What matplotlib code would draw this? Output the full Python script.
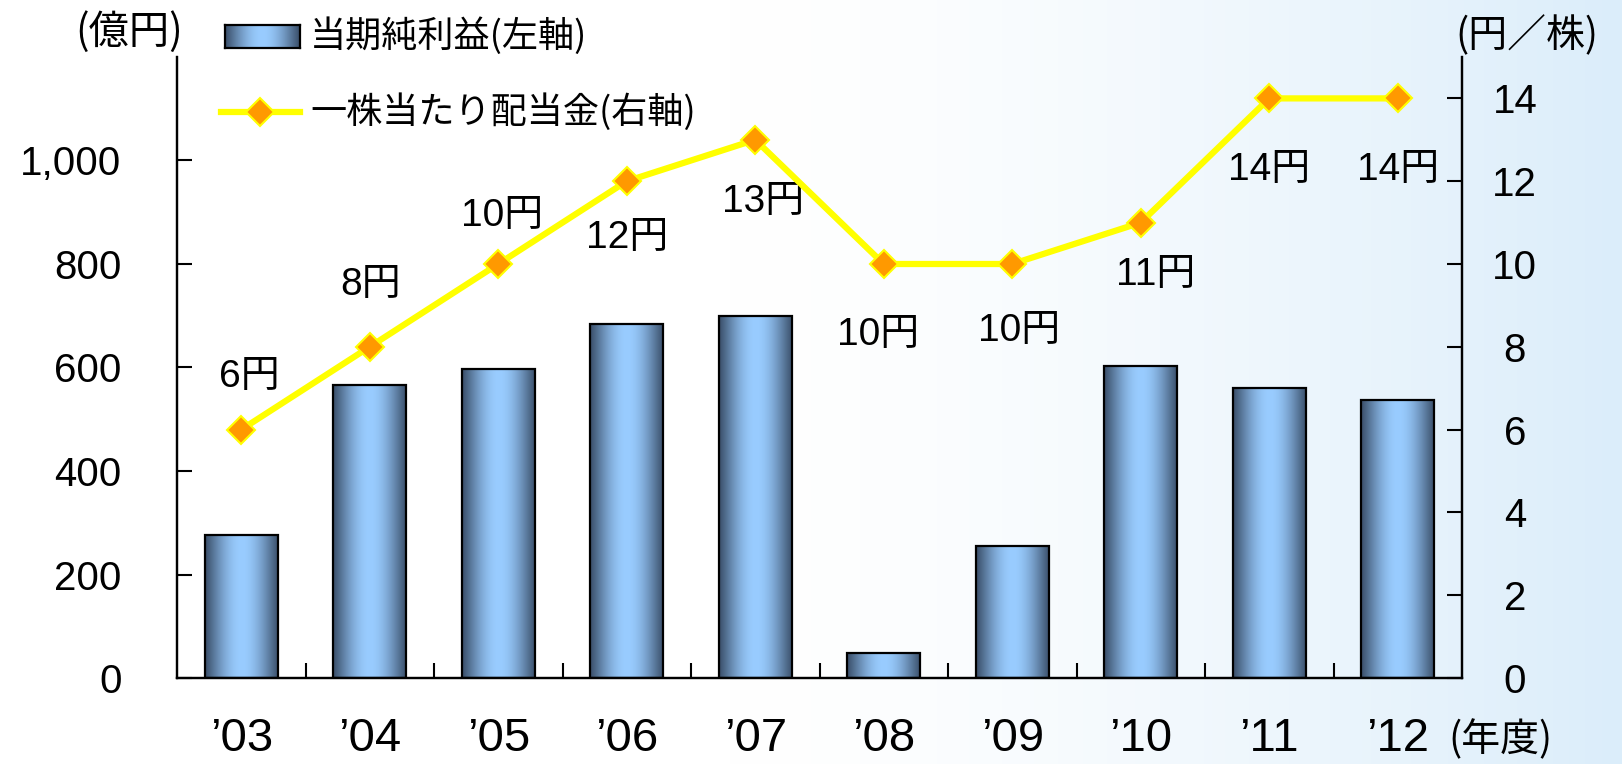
import numpy as np
import matplotlib
matplotlib.use("Agg")
from matplotlib import pyplot as plt
from matplotlib.lines import Line2D
from matplotlib.colors import to_rgb

years = ["’03", "’04", "’05", "’06", "’07", "’08", "’09", "’10", "’11", "’12"]
net_income = [277, 566, 598, 685, 699, 48, 255, 602, 560, 538]   # 億円
dividend = [6, 8, 10, 12, 13, 10, 10, 11, 14, 14]                # 円/株
label_offsets = [(8, 53), (1, 62), (4, 48), (0, -57), (8, -62),
                 (-6, -71), (7, -67), (15, -52), (0, -72), (0, -72)]

JP = ["Noto Sans CJK JP", "DejaVu Sans"]
NUM = ["Liberation Sans", "Noto Sans CJK JP"]

W, H = 1622, 764
fig = plt.figure(figsize=(W / 100, H / 100), dpi=100)

# background gradient, white on the left to pale blue on the right
bg = fig.add_axes([0, 0, 1, 1], zorder=-10)
t = np.linspace(0, 1, 400)
f = np.clip((t - 0.45) / 0.55, 0, 1) ** 1.5
c0, c1 = np.array(to_rgb("#ffffff")), np.array(to_rgb("#dbedfa"))
bg.imshow((c0 + (c1 - c0) * f[:, None])[None, :, :], aspect="auto", extent=[0, 1, 0, 1])
bg.axis("off")


def bar_gradient():
    s = np.linspace(0, 1, 200)
    g = np.sin(np.pi * s) ** 1.1
    dark, light = np.array(to_rgb("#3a4f6a")), np.array(to_rgb("#99ccff"))
    return (dark + (light - dark) * g[:, None])[None, :, :]


ax = fig.add_axes([177 / W, 1 - 678 / H, (1462 - 177) / W, (678 - 57) / H])
ax.patch.set_alpha(0)
x = np.arange(len(years))
bars = ax.bar(x, net_income, width=0.57, facecolor="none", edgecolor="black", linewidth=1.6, zorder=3)
grad = bar_gradient()
for r in bars:
    ax.imshow(grad, aspect="auto", zorder=2,
              extent=[r.get_x(), r.get_x() + r.get_width(), 0, r.get_height()])
ax.set_xlim(-0.5, len(years) - 0.5)
ax.set_ylim(0, 1200)
ax.set_yticks(range(0, 1001, 200))
ax.set_yticklabels([f"{v:,}" for v in range(0, 1001, 200)], family=NUM, fontsize=29)
ax.tick_params(axis="y", direction="in", length=11, width=1.5, pad=40)
ax.set_xticks(x)
ax.set_xticklabels(years, family=NUM, fontsize=34)
ax.set_xticks(np.arange(0.5, len(years) - 1, 1), minor=True)
ax.tick_params(axis="x", which="major", length=0, pad=28)
ax.tick_params(axis="x", which="minor", direction="in", length=11, width=1.5)
for s in ["left", "right", "bottom"]:
    ax.spines[s].set_linewidth(1.6)
ax.spines["top"].set_visible(False)

ax2 = ax.twinx()
ax2.plot(x, dividend, color="#ffff00", linewidth=4.5, marker="D", markersize=14,
         markerfacecolor="#ff9900", markeredgecolor="#ffff00", markeredgewidth=1.5, zorder=5)
ax2.set_ylim(0, 15)
ax2.set_yticks(range(0, 15, 2))
ax2.set_yticklabels([str(v) for v in range(0, 15, 2)], family=NUM, fontsize=29, ha="center")
ax2.tick_params(axis="y", direction="in", length=11, width=1.5, pad=38)
for s in ["left", "right", "bottom"]:
    ax2.spines[s].set_linewidth(1.6)
ax2.spines["top"].set_visible(False)
for xi, d, (dx, dy) in zip(x, dividend, label_offsets):
    ax2.annotate(f"{d}円", (xi, d), xytext=(dx, dy), textcoords="offset pixels",
                 ha="center", va="center", fontsize=28, family=NUM)

# unit labels
fig.text(129 / W, 1 - 32 / H, "(億円)", ha="center", va="center", fontsize=29, family=JP)
fig.text(1527 / W, 1 - 36 / H, "(円／株)", ha="center", va="center", fontsize=28, family=JP)
fig.text(1500 / W, 1 - 740 / H, "(年度)", ha="center", va="center", fontsize=28, family=JP)

# legend drawn by hand
lp = fig.add_axes([225 / W, 1 - 48 / H, 75 / W, 23 / H])
lp.imshow(grad, aspect="auto", extent=[0, 1, 0, 1])
lp.set_xticks([])
lp.set_yticks([])
for s in lp.spines.values():
    s.set_linewidth(1.6)
fig.text(310 / W, 1 - 36 / H, "当期純利益(左軸)", va="center", fontsize=26, family=JP)
fig.add_artist(Line2D([221 / W, 260 / W, 300 / W], [1 - 112 / H] * 3, transform=fig.transFigure,
                      color="#ffff00", linewidth=4.5, marker="D", markersize=14, markevery=[1],
                      markerfacecolor="#ff9900", markeredgecolor="#ffff00", markeredgewidth=1.5))
fig.text(310 / W, 1 - 112 / H, "一株当たり配当金(右軸)", va="center", fontsize=26, family=JP)

fig.savefig("out.png", dpi=100)
